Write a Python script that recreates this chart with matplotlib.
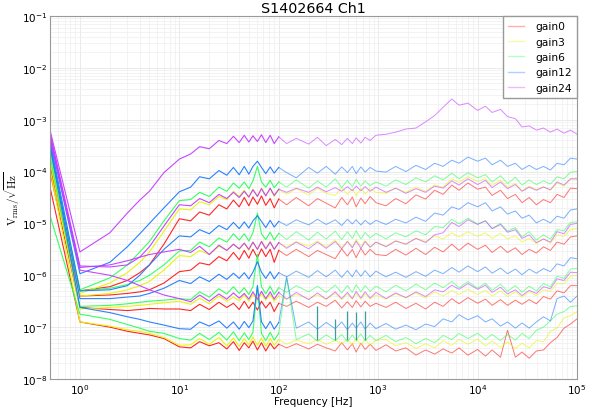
import numpy as np
import matplotlib.pyplot as plt
from matplotlib.lines import Line2D

# frequency grid [Hz]
f_low = [0.5, 1, 2, 3, 4, 5, 7, 10, 13, 16, 20, 25, 30, 35, 40, 45, 50, 55, 61, 67, 74, 82, 90, 100]
f_mid = [120, 150, 200, 245, 300, 370, 430, 490, 550, 600, 670, 740, 830, 950]
f_high = [1200, 1500, 1900, 2400, 3000, 3700, 4500, 5500, 6500, 8000, 10000, 12000, 14000,
          17000, 20000, 24000, 28000, 33000, 39000, 46000, 54000, 63000, 74000, 86000, 100000]
freq = f_low + f_mid + f_high

# log10(V/sqrt(Hz)), 4 traces per gain
gain0 = [
    [-3.85, -6.30, -6.22, -6.10, -5.95, -5.80, -5.40, -4.91, -4.95, -4.78, -4.84, -4.64, -4.72, -4.55, -4.68, -4.50, -4.66, -4.49, -4.63, -4.47, -4.65, -4.52, -4.70, -4.53,
     -4.64, -4.50, -4.66, -4.52, -4.61, -4.70, -4.50, -4.64, -4.49, -4.68, -4.51, -4.62, -4.48, -4.60,
     -4.66, -4.52, -4.62, -4.45, -4.53, -4.36, -4.44, -4.26, -4.36, -4.22, -4.34, -4.30, -4.46, -4.36, -4.52, -4.44, -4.60, -4.50, -4.64, -4.54, -4.60, -4.44, -4.50, -4.32, -4.33],
    [-3.90, -6.40, -6.38, -6.35, -6.32, -6.28, -6.15, -5.93, -5.90, -5.76, -5.80, -5.64, -5.72, -5.56, -5.70, -5.52, -5.67, -5.50, -5.66, -5.49, -5.64, -5.50, -5.75, -5.52,
     -5.62, -5.50, -5.64, -5.52, -5.60, -5.68, -5.49, -5.63, -5.50, -5.66, -5.48, -5.61, -5.50, -5.60,
     -5.62, -5.50, -5.61, -5.48, -5.60, -5.46, -5.55, -5.40, -5.52, -5.38, -5.50, -5.42, -5.56, -5.44, -5.56, -5.47, -5.60, -5.50, -5.57, -5.45, -5.52, -5.36, -5.40, -5.26, -5.24],
    [-4.00, -6.62, -6.66, -6.68, -6.66, -6.64, -6.65, -6.65, -6.68, -6.56, -6.66, -6.52, -6.62, -6.54, -6.66, -6.50, -6.64, -6.52, -6.67, -6.50, -6.63, -6.52, -6.70, -6.54,
     -6.60, -6.50, -6.62, -6.52, -6.60, -6.48, -6.63, -6.51, -6.62, -6.49, -6.61, -6.50, -6.60, -6.54,
     -6.62, -6.52, -6.64, -6.54, -6.65, -6.52, -6.60, -6.45, -6.55, -6.43, -6.54, -6.46, -6.58, -6.47, -6.58, -6.48, -6.56, -6.47, -6.55, -6.41, -6.46, -6.30, -6.34, -6.20, -6.20],
    [-4.30, -6.90, -7.00, -7.08, -7.12, -7.15, -7.22, -7.38, -7.40, -7.28, -7.36, -7.30, -7.42, -7.28, -7.45, -7.30, -7.40, -7.27, -7.44, -7.30, -7.46, -7.31, -7.42, -7.33,
     -7.40, -7.32, -7.42, -7.33, -7.40, -7.46, -7.30, -7.44, -7.32, -7.48, -7.31, -7.43, -7.33, -7.45,
     -7.34, -7.46, -7.40, -7.54, -7.44, -7.52, -7.42, -7.50, -7.40, -7.54, -7.43, -7.56, -7.44, -7.58, -7.06, -7.58, -7.48, -7.60, -7.46, -7.44, -7.30, -7.20, -7.02, -6.94, -6.84],
]
gain3 = [
    [-3.70, -6.35, -6.15, -5.95, -5.75, -5.55, -5.15, -4.72, -4.74, -4.58, -4.64, -4.48, -4.54, -4.38, -4.48, -4.36, -4.50, -4.34, -4.47, -4.32, -4.46, -4.33, -4.48, -4.35,
     -4.44, -4.33, -4.45, -4.32, -4.42, -4.46, -4.31, -4.44, -4.33, -4.47, -4.32, -4.43, -4.33, -4.40,
     -4.42, -4.32, -4.40, -4.30, -4.38, -4.26, -4.30, -4.14, -4.21, -4.10, -4.19, -4.14, -4.27, -4.16, -4.30, -4.23, -4.37, -4.28, -4.35, -4.29, -4.36, -4.22, -4.28, -4.14, -4.14],
    [-3.75, -6.40, -6.35, -6.28, -6.20, -6.12, -5.90, -5.62, -5.64, -5.52, -5.60, -5.44, -5.52, -5.40, -5.50, -5.38, -5.52, -5.36, -5.50, -5.34, -5.48, -5.35, -5.50, -5.37,
     -5.45, -5.35, -5.44, -5.34, -5.45, -5.32, -5.46, -5.34, -5.45, -5.31, -5.44, -5.33, -5.45, -5.36,
     -5.44, -5.33, -5.40, -5.28, -5.35, -5.24, -5.30, -5.18, -5.26, -5.16, -5.25, -5.18, -5.29, -5.19, -5.30, -5.24, -5.36, -5.29, -5.39, -5.30, -5.38, -5.22, -5.25, -5.12, -5.10],
    [-3.80, -6.65, -6.62, -6.60, -6.58, -6.56, -6.53, -6.50, -6.56, -6.44, -6.55, -6.40, -6.50, -6.42, -6.49, -6.38, -6.50, -6.37, -6.49, -6.36, -6.48, -6.37, -6.50, -6.40,
     -6.46, -6.37, -6.45, -6.38, -6.46, -6.35, -6.47, -6.36, -6.46, -6.35, -6.46, -6.36, -6.46, -6.38,
     -6.46, -6.36, -6.44, -6.34, -6.44, -6.32, -6.40, -6.29, -6.37, -6.27, -6.37, -6.29, -6.40, -6.30, -6.41, -6.32, -6.42, -6.32, -6.39, -6.28, -6.31, -6.16, -6.16, -6.02, -6.00],
    [-3.95, -6.90, -6.98, -7.05, -7.08, -7.12, -7.20, -7.35, -7.34, -7.22, -7.33, -7.20, -7.36, -7.21, -7.37, -7.22, -7.34, -7.19, -7.35, -7.21, -7.37, -7.22, -7.35, -7.24,
     -7.33, -7.25, -7.32, -7.24, -7.33, -7.26, -7.32, -7.23, -7.35, -7.22, -7.34, -7.24, -7.35, -7.25,
     -7.24, -7.36, -7.30, -7.41, -7.32, -7.40, -7.26, -7.35, -7.24, -7.33, -7.23, -7.36, -7.27, -7.39, -7.29, -7.41, -7.31, -7.40, -7.26, -7.28, -7.08, -7.02, -6.82, -6.78, -6.70],
]
gain6 = [
    [-3.55, -6.28, -6.05, -5.80, -5.55, -5.35, -4.95, -4.56, -4.54, -4.40, -4.48, -4.30, -4.38, -4.22, -4.32, -4.20, -4.33, -4.18, -3.90, -4.20, -4.30, -4.17, -4.31, -4.20,
     -4.30, -4.16, -4.32, -4.18, -4.30, -4.14, -4.31, -4.17, -4.29, -4.15, -4.28, -4.18, -4.27, -4.20,
     -4.28, -4.16, -4.25, -4.12, -4.20, -4.08, -4.16, -4.03, -4.14, -4.02, -4.12, -4.06, -4.20, -4.08, -4.23, -4.11, -4.26, -4.16, -4.25, -4.18, -4.24, -4.10, -4.14, -4.01, -4.00],
    [-3.60, -6.30, -6.25, -6.18, -6.10, -6.00, -5.80, -5.53, -5.52, -5.36, -5.45, -5.28, -5.36, -5.20, -5.32, -5.20, -5.34, -5.18, -4.80, -5.20, -5.31, -5.17, -5.32, -5.19,
     -5.31, -5.16, -5.32, -5.17, -5.30, -5.15, -5.31, -5.16, -5.29, -5.14, -5.30, -5.17, -5.28, -5.19,
     -5.30, -5.18, -5.26, -5.14, -5.22, -5.06, -5.08, -4.92, -5.01, -4.90, -5.01, -4.95, -5.10, -5.00, -5.15, -5.08, -5.26, -5.16, -5.32, -5.22, -5.30, -5.12, -5.14, -4.98, -4.97],
    [-3.70, -6.60, -6.58, -6.55, -6.52, -6.50, -6.48, -6.45, -6.47, -6.32, -6.42, -6.26, -6.36, -6.22, -6.35, -6.24, -6.37, -6.22, -5.60, -6.22, -6.36, -6.21, -6.37, -6.24,
     -6.33, -6.20, -6.32, -6.21, -6.33, -6.19, -6.34, -6.20, -6.33, -6.18, -6.32, -6.20, -6.31, -6.21,
     -6.32, -6.19, -6.30, -6.17, -6.28, -6.15, -6.24, -6.12, -6.24, -6.12, -6.25, -6.15, -6.29, -6.17, -6.31, -6.20, -6.33, -6.21, -6.30, -6.16, -6.22, -6.02, -6.06, -5.88, -5.87],
    [-4.85, -6.75, -6.85, -6.95, -7.02, -7.08, -7.12, -7.22, -7.25, -7.12, -7.24, -7.10, -7.25, -7.09, -7.26, -7.11, -7.24, -7.10, -6.20, -7.12, -7.26, -7.10, -7.25, -7.12,
     -6.05, -7.24, -7.13, -7.27, -7.15, -7.26, -7.14, -7.28, -7.15, -7.25, -7.13, -7.26, -7.16, -7.26,
     -7.16, -7.28, -7.20, -7.32, -7.22, -7.30, -7.16, -7.24, -7.12, -7.22, -7.12, -7.24, -7.14, -7.26, -7.14, -7.25, -7.12, -7.22, -7.06, -7.00, -6.88, -6.75, -6.70, -6.60, -6.59],
]
gain12 = [
    [-3.35, -5.97, -5.75, -5.45, -5.20, -5.00, -4.70, -4.39, -4.30, -4.10, -4.14, -3.98, -4.07, -3.92, -4.06, -3.90, -4.05, -3.90, -3.80, -3.92, -4.04, -3.91, -4.03, -3.92,
     -4.02, -4.12, -3.92, -4.03, -3.90, -4.05, -3.91, -4.02, -3.90, -4.04, -3.91, -4.01, -3.92, -3.99,
     -4.01, -3.90, -4.00, -3.88, -3.96, -3.84, -3.90, -3.78, -3.84, -3.72, -3.80, -3.74, -3.87, -3.78, -3.90, -3.84, -3.96, -3.88, -3.96, -3.90, -3.97, -3.84, -3.87, -3.74, -3.76],
    [-3.40, -6.30, -6.28, -6.20, -6.00, -5.80, -5.50, -5.24, -5.26, -5.12, -5.20, -5.04, -5.12, -4.98, -5.10, -4.97, -5.09, -4.95, -4.85, -4.96, -5.08, -4.94, -5.07, -4.96,
     -5.04, -4.93, -5.03, -4.92, -5.02, -4.93, -5.04, -4.92, -5.01, -4.93, -5.03, -4.94, -5.02, -4.94,
     -5.02, -4.92, -4.99, -4.88, -4.96, -4.80, -4.84, -4.68, -4.73, -4.60, -4.68, -4.60, -4.76, -4.68, -4.82, -4.76, -4.90, -4.84, -4.99, -4.92, -4.99, -4.86, -4.90, -4.74, -4.72],
    [-3.45, -6.45, -6.45, -6.42, -6.40, -6.35, -6.25, -6.10, -6.16, -6.03, -6.12, -5.98, -6.08, -5.96, -6.06, -5.95, -6.07, -5.94, -5.74, -5.94, -6.06, -5.93, -6.07, -5.95,
     -6.03, -5.92, -6.04, -5.91, -6.03, -5.90, -6.04, -5.91, -6.03, -5.90, -6.02, -5.91, -6.03, -5.92,
     -6.03, -5.94, -6.04, -5.93, -6.02, -5.90, -5.97, -5.85, -5.94, -5.82, -5.93, -5.84, -5.96, -5.86, -5.97, -5.88, -5.99, -5.88, -5.96, -5.87, -5.93, -5.78, -5.82, -5.66, -5.68],
    [-3.50, -6.62, -6.72, -6.80, -6.85, -6.90, -6.96, -7.03, -7.04, -6.90, -6.98, -6.88, -7.02, -6.90, -7.04, -6.89, -7.01, -6.88, -6.20, -6.90, -7.03, -6.89, -7.04, -6.91,
     -6.03, -7.02, -6.90, -7.04, -6.91, -7.03, -6.90, -7.05, -6.92, -7.02, -6.90, -7.04, -6.92, -7.03,
     -6.93, -7.04, -6.96, -7.05, -6.94, -6.99, -6.84, -6.90, -6.76, -6.86, -6.78, -6.90, -6.84, -6.98, -6.90, -7.02, -6.92, -7.02, -6.90, -6.80, -6.88, -6.45, -6.40, -6.52, -6.40],
]
gain24 = [
    [-3.20, -5.55, -5.18, -4.80, -4.55, -4.38, -4.02, -3.76, -3.66, -3.52, -3.56, -3.40, -3.46, -3.32, -3.44, -3.30, -3.43, -3.31, -3.42, -3.29, -3.44, -3.30, -3.46, -3.33,
     -3.46, -3.36, -3.47, -3.34, -3.50, -3.38, -3.48, -3.36, -3.46, -3.35, -3.45, -3.34, -3.40, -3.30,
     -3.28, -3.24, -3.18, -3.16, -3.04, -2.92, -2.76, -2.60, -2.72, -2.68, -2.82, -2.74, -2.86, -2.80, -2.94, -2.98, -3.14, -3.12, -3.20, -3.16, -3.24, -3.18, -3.26, -3.20, -3.28],
    [-3.25, -5.82, -5.84, -5.80, -5.65, -5.45, -5.05, -4.64, -4.66, -4.52, -4.60, -4.44, -4.52, -4.40, -4.50, -4.38, -4.49, -4.35, -4.48, -4.33, -4.47, -4.32, -4.46, -4.34,
     -4.40, -4.32, -4.40, -4.30, -4.39, -4.31, -4.38, -4.29, -4.37, -4.28, -4.37, -4.29, -4.38, -4.30,
     -4.40, -4.32, -4.42, -4.33, -4.40, -4.28, -4.32, -4.18, -4.26, -4.14, -4.25, -4.17, -4.31, -4.20, -4.33, -4.25, -4.38, -4.30, -4.36, -4.30, -4.35, -4.20, -4.26, -4.14, -4.14],
    [-3.30, -5.85, -5.80, -5.72, -5.65, -5.60, -5.55, -5.50, -5.56, -5.44, -5.60, -5.42, -5.52, -5.40, -5.49, -5.38, -5.50, -5.36, -5.50, -5.35, -5.49, -5.36, -5.50, -5.37,
     -5.48, -5.36, -5.49, -5.36, -5.48, -5.35, -5.49, -5.35, -5.47, -5.34, -5.48, -5.35, -5.46, -5.36,
     -5.45, -5.34, -5.40, -5.29, -5.37, -5.22, -5.18, -4.98, -5.06, -4.93, -5.02, -4.95, -5.10, -5.02, -5.17, -5.12, -5.29, -5.22, -5.37, -5.30, -5.36, -5.16, -5.20, -5.02, -5.00],
    [-3.35, -5.90, -6.00, -6.10, -6.20, -6.28, -6.38, -6.45, -6.51, -6.38, -6.50, -6.36, -6.46, -6.34, -6.44, -6.35, -6.46, -6.32, -6.46, -6.31, -6.45, -6.32, -6.46, -6.33,
     -6.46, -6.33, -6.47, -6.34, -6.46, -6.32, -6.45, -6.33, -6.45, -6.31, -6.44, -6.32, -6.44, -6.33,
     -6.45, -6.34, -6.43, -6.32, -6.41, -6.28, -6.32, -6.19, -6.27, -6.16, -6.27, -6.19, -6.33, -6.23, -6.36, -6.28, -6.39, -6.29, -6.35, -6.22, -6.26, -6.07, -6.10, -5.94, -5.95],
]
labels = ["gain0", "gain3", "gain6", "gain12", "gain24"]
colors = ["#ff1a1a", "#e6f500", "#2cff5a", "#1f7bff", "#c43cff"]

# narrow pick-up spikes on the lowest traces (mid band)
spike_f = [245, 370, 490, 600, 740]
spike_top = [-6.59, -6.84, -6.69, -6.71, -6.69]
spike_base = -7.25

fig = plt.figure(figsize=(5.98, 4.10), dpi=100)
ax = fig.add_axes([0.0836, 0.0732, 0.8813, 0.8853])

f = np.array(freq)
nlow = len(f_low)
for col, traces in zip(colors, [gain0, gain3, gain6, gain12, gain24]):
    for tr in traces:
        v = 10 ** np.array(tr)
        ax.plot(f[:nlow], v[:nlow], color=col, lw=0.8, alpha=0.95)
        ax.plot(f[nlow - 1:], v[nlow - 1:], color=col, lw=0.7, alpha=0.6)

ax.vlines(spike_f, 10 ** spike_base, 10 ** np.array(spike_top), color="#3c9c9c", lw=0.9)

ax.set_xscale("log")
ax.set_yscale("log")
ax.set_xlim(0.5, 1e5)
ax.set_ylim(1e-8, 1e-1)
ax.grid(True, which="major", color="#e6e6e6", lw=0.6)
ax.grid(True, which="minor", color="#efefef", lw=0.5)
ax.tick_params(which="both", length=0, labelsize=7.5, pad=2)
for s in ax.spines.values():
    s.set_color("#999999")
ax.set_title("S1402664 Ch1", fontsize=10.3, pad=3)
ax.set_xlabel("Frequency [Hz]", fontsize=7.5, labelpad=0)
ax.set_ylabel(r"$\mathrm{V_{rms}/\sqrt{Hz}}$", fontsize=8, math_fontfamily="cm")
ax.yaxis.set_label_coords(-0.053, 0.5)

handles = [Line2D([], [], color=c, lw=1, alpha=0.35) for c in colors]
ax.legend(handles, labels, loc="upper right", fontsize=7.7, framealpha=1, edgecolor="#999999",
          fancybox=False, borderaxespad=0, handlelength=1.5, handletextpad=1.0,
          labelspacing=0.5, borderpad=0.5)

fig.savefig("out.png", dpi=100)
